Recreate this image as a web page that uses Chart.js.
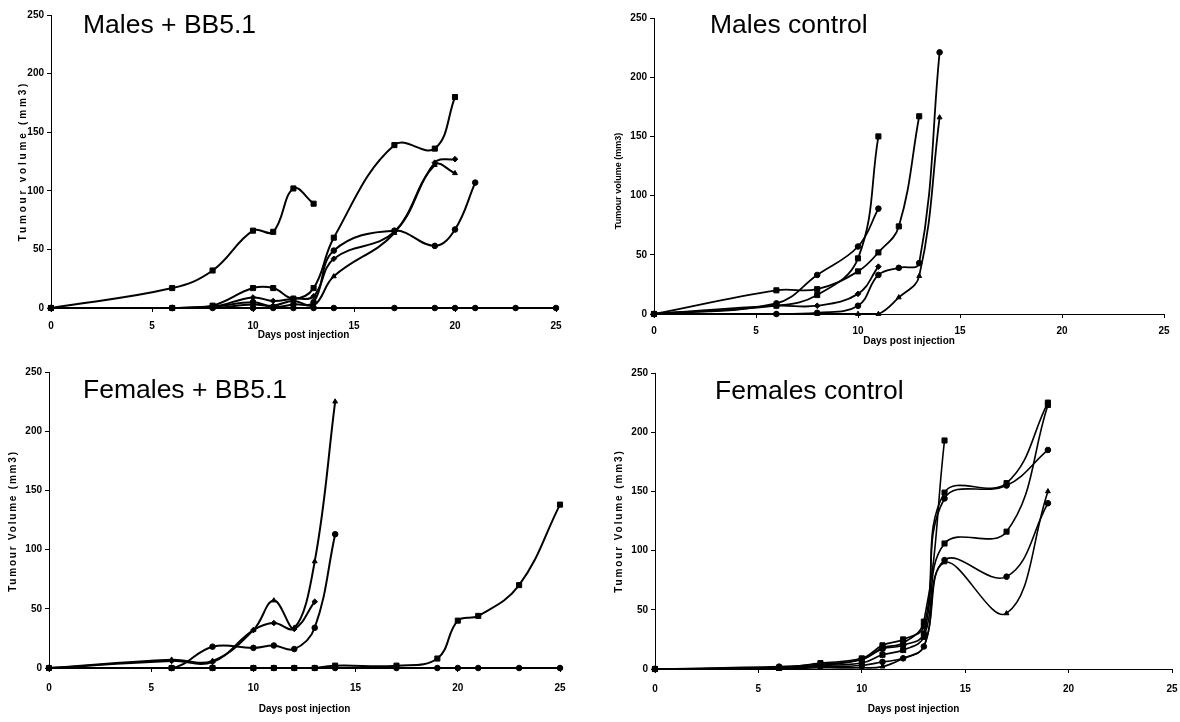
<!DOCTYPE html>
<html>
<head>
<meta charset="utf-8">
<script src="https://cdn.jsdelivr.net/npm/chart.js@4.4.0/dist/chart.umd.min.js"></script>
<style>
body{margin:0;background:#fff;width:1180px;height:722px;overflow:hidden;position:relative;font-family:"Liberation Sans",Arial,sans-serif}
canvas{position:absolute}
.title{position:absolute;font-size:26.5px;line-height:30px;color:#000;white-space:nowrap}
.ytitle{position:absolute;font-size:10px;font-weight:bold;color:#000;white-space:nowrap;transform:translate(-50%,-50%) rotate(-90deg)}
</style>
</head>
<body>
<canvas id="c1" width="590" height="350" style="left:0;top:0"></canvas>
<canvas id="c2" width="590" height="355" style="left:590px;top:0"></canvas>
<canvas id="c3" width="590" height="367" style="left:0;top:355px"></canvas>
<canvas id="c4" width="590" height="367" style="left:590px;top:355px"></canvas>

<div class="title" style="left:83px;top:9px">Males + BB5.1</div>
<div class="title" style="left:710px;top:9px">Males control</div>
<div class="title" style="left:83px;top:374px">Females + BB5.1</div>
<div class="title" style="left:715px;top:375px">Females control</div>

<div class="ytitle" style="left:22px;top:161px;letter-spacing:2.8px">Tumour volume (mm3)</div>
<div class="ytitle" style="left:618px;top:181px;font-size:9px">Tumour volume (mm3)</div>
<div class="ytitle" style="left:12px;top:521px;letter-spacing:1.8px">Tumour Volume (mm3)</div>
<div class="ytitle" style="left:618px;top:521px;letter-spacing:1.9px">Tumour Volume (mm3)</div>

<script>
// x ticks / y ticks shared by all four panels
var xTicks = [0, 5, 10, 15, 20, 25];
var yTicks = [0, 50, 100, 150, 200, 250];

// Males + BB5.1
var maleTreatDays = [0, 6, 8, 10, 11, 12, 13, 14, 17, 19, 20, 21, 23, 25];
var maleTreatA = [0, 17, 32, 66, 65, 102, 89];
var maleTreatB = [0, 0, 2, 17, 17, 8, 17, 60, 139, 136, 180];
var maleTreatC = [0, 0, 1, 9, 6, 8, 10, 42, 65, 124, 127];
var maleTreatD = [0, 0, 0, 3, 2, 6, 2, 27, 64, 122, 115];
var maleTreatE = [0, 0, 1, 5, 1, 3, 5, 49, 66, 53, 67, 107];
var maleTreatF = [0, 0, 0, 0, 0, 0, 0, 0, 0, 0, 0, 0, 0, 0];

// Males control
var maleCtrlDays = [0, 6, 8, 10, 11, 12, 13, 14];
var maleCtrlA = [0, 7, 16, 47, 150];
var maleCtrlB = [0, 9, 33, 57, 89];
var maleCtrlC = [0, 20, 21, 36, 52, 74, 167];
var maleCtrlD = [0, 7, 7, 17, 40];
var maleCtrlE = [0, 0, 1, 7, 33, 39, 43, 221];
var maleCtrlF = [0, 0, 0, 0, 0, 14, 32, 166];

// Females + BB5.1
var femTreatDays = [0, 6, 8, 10, 11, 12, 13, 14, 17, 19, 20, 21, 23, 25];
var femTreatA = [0, 7, 6, 32, 57, 34, 90, 225];
var femTreatB = [0, 6, 5, 32, 38, 33, 56];
var femTreatC = [0, 0, 18, 17, 19, 16, 34, 113];
var femTreatD = [0, 0, 0, 0, 0, 0, 0, 2, 2, 8, 40, 44, 70, 138];
var femTreatE = [0, 0, 0, 0, 0, 0, 0, 0, 0, 0, 0, 0, 0, 0];

// Females control
var femCtrlDays = [0, 6, 8, 10, 11, 12, 13, 14, 17, 19];
var femCtrlA = [0, 1, 3, 8, 18, 22, 40, 193];
var femCtrlB = [0, 1, 5, 9, 20, 25, 36, 149, 157, 225];
var femCtrlC = [0, 2, 4, 8, 17, 20, 30, 144, 155, 185];
var femCtrlD = [0, 1, 3, 5, 12, 16, 27, 106, 116, 223];
var femCtrlE = [0, 1, 2, 3, 6, 9, 19, 92, 78, 140];
var femCtrlF = [0, 0, 1, 1, 2, 9, 19, 90, 47, 150];

var tickFont = {family: "'Liberation Sans', Arial, sans-serif", size: 10, weight: 'bold'};

function toPoints(days, values)
{
    var pts = [];
    for (let i = 0; i < values.length; i++)
    {
        if (values[i] !== null) pts.push({x: days[i], y: values[i]});
    }
    return pts;
}

function makeDataset(days, values, marker, width)
{
    return {
        data: toPoints(days, values),
        borderColor: '#000',
        backgroundColor: '#000',
        pointBackgroundColor: '#000',
        pointBorderColor: '#000',
        borderWidth: width,
        pointBorderWidth: 1,
        pointStyle: marker,
        pointRadius: marker == 'rect' ? 3.6 : 2.8,
        tension: 0.4,
        fill: false,
        clip: false
    };
}

// m = chart area margins inside the canvas: left (y axis width), top, right, bottom (x axis height)
function makePanel(id, datasets, m, xTitlePad)
{
    var canvas = document.getElementById(id);
    return new Chart(canvas, {
        type: 'line',
        data: {datasets: datasets},
        options: {
            responsive: false,
            animation: false,
            events: [],
            layout: {padding: {left: 0, top: m.top, right: m.right, bottom: 0}},
            plugins: {legend: {display: false}, tooltip: {enabled: false}},
            scales: {
                x: {
                    type: 'linear',
                    min: 0,
                    max: 25,
                    afterBuildTicks: function(scale){ scale.ticks = xTicks.map(v => ({value: v})); },
                    ticks: {color: '#000', font: tickFont, padding: m.xPad, maxRotation: 0},
                    grid: {display: true, drawOnChartArea: false, drawTicks: true, tickLength: 4, color: '#000'},
                    border: {display: true, color: '#000', width: 1},
                    title: {display: true, text: 'Days post injection', color: '#000', font: tickFont, padding: {top: 0, bottom: xTitlePad}},
                    afterFit: function(scale){
                        scale.height = m.bottom;
                        scale.paddingLeft = 0; scale.paddingRight = 0;
                        scale.paddingTop = 0; scale.paddingBottom = 0;
                    }
                },
                y: {
                    type: 'linear',
                    min: 0,
                    max: 250,
                    afterBuildTicks: function(scale){ scale.ticks = yTicks.map(v => ({value: v})); },
                    ticks: {color: '#000', font: tickFont, padding: 3},
                    grid: {display: true, drawOnChartArea: false, drawTicks: true, tickLength: 4, color: '#000'},
                    border: {display: true, color: '#000', width: 1},
                    afterFit: function(scale){
                        scale.width = m.left;
                        scale.paddingLeft = 0; scale.paddingRight = 0;
                        scale.paddingTop = 0; scale.paddingBottom = 0;
                    }
                }
            }
        }
    });
}

makePanel('c1', [
    makeDataset(maleTreatDays, maleTreatF, 'circle', 2),
    makeDataset(maleTreatDays, maleTreatA, 'rect', 2),
    makeDataset(maleTreatDays, maleTreatB, 'rect', 2),
    makeDataset(maleTreatDays, maleTreatC, 'rectRot', 2),
    makeDataset(maleTreatDays, maleTreatD, 'triangle', 2),
    makeDataset(maleTreatDays, maleTreatE, 'circle', 2)
], {left: 51, top: 15, right: 34, bottom: 42, xPad: 8}, 9);

makePanel('c2', [
    makeDataset(maleCtrlDays, maleCtrlA, 'rect', 1.8),
    makeDataset(maleCtrlDays, maleCtrlB, 'circle', 1.8),
    makeDataset(maleCtrlDays, maleCtrlC, 'rect', 1.8),
    makeDataset(maleCtrlDays, maleCtrlD, 'rectRot', 1.8),
    makeDataset(maleCtrlDays, maleCtrlE, 'circle', 1.8),
    makeDataset(maleCtrlDays, maleCtrlF, 'triangle', 1.8)
], {left: 64, top: 18, right: 16, bottom: 41, xPad: 7}, 8);

makePanel('c3', [
    makeDataset(femTreatDays, femTreatE, 'circle', 2),
    makeDataset(femTreatDays, femTreatA, 'triangle', 2),
    makeDataset(femTreatDays, femTreatB, 'rectRot', 2),
    makeDataset(femTreatDays, femTreatC, 'circle', 2),
    makeDataset(femTreatDays, femTreatD, 'rect', 2)
], {left: 49, top: 17, right: 30, bottom: 54, xPad: 10}, 7);

makePanel('c4', [
    makeDataset(femCtrlDays, femCtrlA, 'rect', 1.6),
    makeDataset(femCtrlDays, femCtrlB, 'rect', 1.6),
    makeDataset(femCtrlDays, femCtrlC, 'circle', 1.6),
    makeDataset(femCtrlDays, femCtrlD, 'rect', 1.6),
    makeDataset(femCtrlDays, femCtrlE, 'circle', 1.6),
    makeDataset(femCtrlDays, femCtrlF, 'triangle', 1.6)
], {left: 65, top: 18, right: 8, bottom: 53, xPad: 10}, 7);
</script>
</body>
</html>
